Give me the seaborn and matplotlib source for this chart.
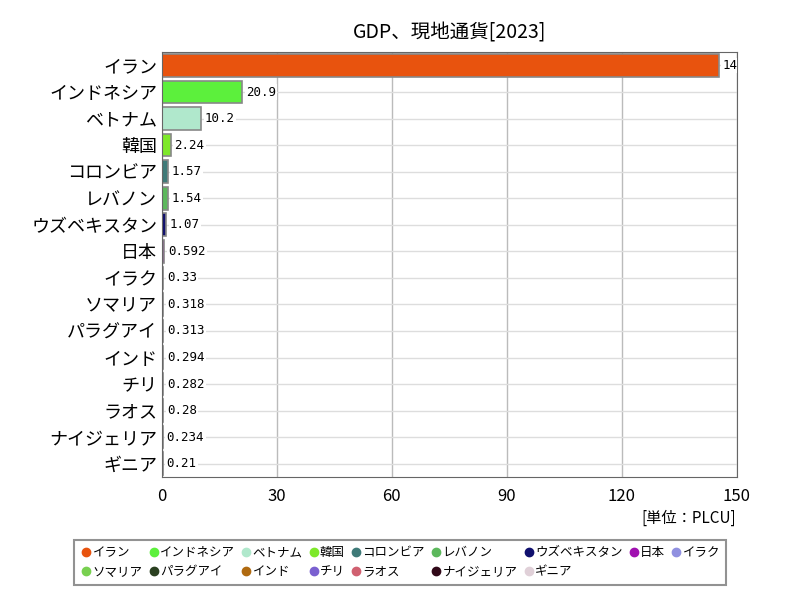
import matplotlib
matplotlib.use("Agg")
import matplotlib.pyplot as plt
from matplotlib.lines import Line2D
import seaborn as sns
import pandas as pd

plt.rcParams['font.family'] = 'Noto Sans CJK JP'

countries = ['イラン', 'インドネシア', 'ベトナム', '韓国', 'コロンビア', 'レバノン', 'ウズベキスタン',
             '日本', 'イラク', 'ソマリア', 'パラグアイ', 'インド', 'チリ', 'ラオス', 'ナイジェリア', 'ギニア']
values = [145.3, 20.9, 10.2, 2.24, 1.57, 1.54, 1.07, 0.592, 0.33, 0.318, 0.313, 0.294, 0.282, 0.28, 0.234, 0.21]
labels = ['145', '20.9', '10.2', '2.24', '1.57', '1.54', '1.07', '0.592', '0.33', '0.318', '0.313',
          '0.294', '0.282', '0.28', '0.234', '0.21']
colors = ['#e8530e', '#5cf03c', '#b0e8cc', '#7ee82a', '#3f7a78', '#5cb85c', '#10106e', '#a010b0',
          '#9090e0', '#78d050', '#2a4020', '#b06a10', '#7a60d0', '#d06070', '#300818', '#e0d0d8']

df = pd.DataFrame({'country': countries, 'value': values})

fig = plt.figure(figsize=(8, 6), dpi=100)
ax = fig.add_axes([0.2025, 0.205, 0.7185, 0.708])
sns.barplot(data=df, x='value', y='country', hue='country', palette=colors, legend=False,
            saturation=1, width=0.85, edgecolor='#888888', linewidth=1.2, ax=ax)

for i, (v, t) in enumerate(zip(values, labels)):
    ax.text(v + 1, i, t, va='center', ha='left', fontsize=9, fontfamily='DejaVu Sans Mono',
            bbox=dict(facecolor='white', edgecolor='none', pad=1), clip_on=True)

ax.set_xlim(0, 150)
ax.set_xticks([0, 30, 60, 90, 120, 150])
ax.grid(axis='x', color='#bbbbbb', linewidth=1)
ax.grid(axis='y', color='#dddddd', linewidth=1)
ax.set_axisbelow(True)
for s in ax.spines.values():
    s.set_color('#666666')
ax.tick_params(axis='y', labelsize=13, length=0)
ax.tick_params(axis='x', labelsize=12, length=0, pad=8)
ax.set_xlabel('')
ax.set_ylabel('')
ax.set_title('GDP、現地通貨[2023]', fontsize=14, pad=10)
fig.text(0.92, 0.128, '[単位：PLCU]', ha='right', fontsize=11)

# legend reads row by row: reorder for matplotlib's column-wise fill
ncol = 9
order = []
for j in range(ncol):
    for k in (j, j + ncol):
        if k < len(countries):
            order.append(k)
handles = [Line2D([], [], marker='o', linestyle='', color=colors[k], markersize=6) for k in order]
names = [countries[k] for k in order]
leg = fig.legend(handles, names, loc='lower center', bbox_to_anchor=(0.5, 0.015), ncol=ncol,
                 fontsize=9, handletextpad=0.0, columnspacing=0.4, handlelength=1.0,
                 frameon=True, fancybox=False, borderpad=0.5)
leg.get_frame().set_edgecolor('#777777')
leg.get_frame().set_linewidth(1.5)

fig.savefig('out.png', dpi=100)
